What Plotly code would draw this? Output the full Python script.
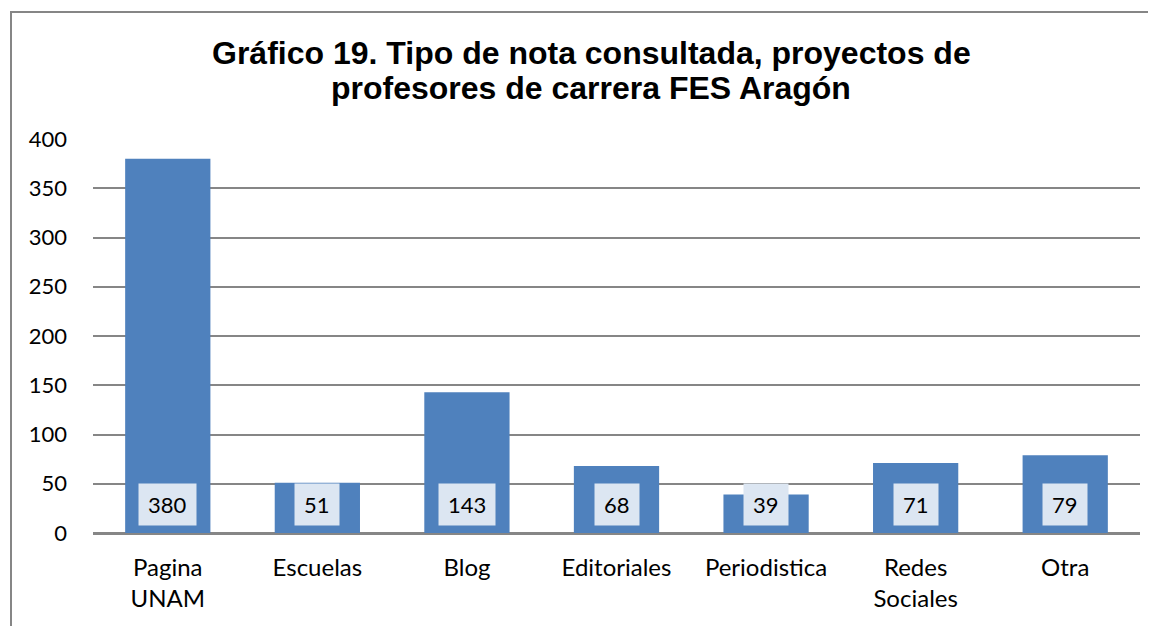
import plotly.graph_objects as go

categories = ["Pagina<br>UNAM", "Escuelas", "Blog", "Editoriales", "Periodistica", "Redes<br>Sociales", "Otra"]
values = [380, 51, 143, 68, 39, 71, 79]
y_ticks = [0, 50, 100, 150, 200, 250, 300, 350, 400]
title_lines = ["Gráfico 19. Tipo de nota consultada, proyectos de",
               "profesores de carrera FES Aragón"]

# page body has an 8px margin, so the figure is 8px smaller
W, H = 1148, 618
ml, mr, mt, mb = 85, 16, 131, 93
pw = W - ml - mr
ph = H - mt - mb

def px_x(x):
    return (x - ml) / pw

def px_y(y):
    return 1 - (y - mt) / ph

fig = go.Figure()
fig.add_trace(go.Bar(
    x=categories, y=values,
    marker=dict(color="#4F81BD", line=dict(width=0)),
    width=0.57,
    hoverinfo="x+y",
))

for c, v in zip(categories, values):
    fig.add_annotation(
        x=c, y=29, xref="x", yref="y",
        text=str(v), showarrow=False,
        font=dict(family="Lato, Carlito, sans-serif", size=22, color="#000000"),
        bgcolor="#DCE6F2", borderpad=9, height=23,
        xanchor="center", yanchor="middle",
    )

for i, line in enumerate(title_lines):
    fig.add_annotation(
        x=px_x(583), y=px_y(45 + 35 * i), xref="paper", yref="paper",
        text="<b>" + line + "</b>", showarrow=False,
        font=dict(family="Liberation Sans, Arial, sans-serif", size=32, color="#000000"),
        xanchor="center", yanchor="middle",
    )

fig.add_shape(
    type="rect", xref="paper", yref="paper",
    x0=px_x(3), x1=px_x(W + 20),
    y0=px_y(H + 20), y1=px_y(4),
    line=dict(color="#868686", width=2), fillcolor="rgba(0,0,0,0)",
    layer="above",
)

fig.update_layout(
    width=W, height=H,
    margin=dict(l=ml, r=mr, t=mt, b=mb, autoexpand=False),
    paper_bgcolor="white", plot_bgcolor="white",
    showlegend=False,
    xaxis=dict(
        showgrid=False, showline=True, linecolor="#868686", linewidth=1.5,
        ticks="", tickfont=dict(family="Lato, Carlito, sans-serif", size=24, color="#000000"),
        ticklabelstandoff=12,
    ),
    yaxis=dict(
        range=[0, 400], tickvals=y_ticks,
        showgrid=True, gridcolor="#868686", gridwidth=1.5,
        zeroline=True, zerolinecolor="#868686", zerolinewidth=1.5,
        showline=False, ticks="",
        tickfont=dict(family="Lato, Carlito, sans-serif", size=22, color="#000000"),
        ticklabelstandoff=25,
    ),
)

fig.write_html("out.html")
